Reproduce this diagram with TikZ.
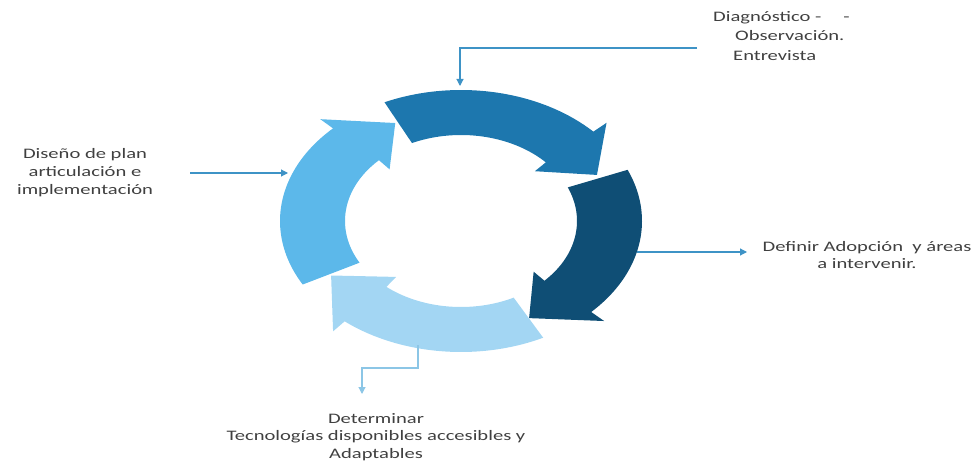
\documentclass[tikz,border=0pt]{standalone}
\usepackage{fontspec}
\setmainfont{Carlito}[FakeStretch=1.42]
\usetikzlibrary{arrows.meta}
\definecolor{cTop}{HTML}{1D77AE}
\definecolor{cNavy}{HTML}{0F4E75}
\definecolor{cLeft}{HTML}{5CB8EA}
\definecolor{cBot}{HTML}{A3D6F3}
\definecolor{cLine}{HTML}{3E93C6}
\definecolor{cLineL}{HTML}{8CC6E6}
\definecolor{cText}{HTML}{404040}
\newcommand\cyclearrow[4]{%
  \fill[#4] plot[domain=#1:#2, samples=50] ({461+181*cos(\x)},{221-131*sin(\x)})
    -- ({461+199*cos(#2)},{221-144*sin(#2)})
    -- ({461+150*cos(#3)},{221-109*sin(#3)})
    -- ({461+101*cos(#2)},{221-73*sin(#2)})
    -- plot[domain=#2:#1, samples=50] ({461+116*cos(\x)},{221-86*sin(\x)}) -- cycle;}
\begin{document}
\begin{tikzpicture}[x=1pt,y=-1pt,
  lbl/.style={text=cText, inner sep=0pt, font=\fontsize{14.5}{18}\selectfont},
  conn/.style={draw=cLine, line width=1.1pt, -{Triangle[length=7pt,width=7pt]}}]
\useasboundingbox (0,0) rectangle (974,465);
% cycle arrows
\cyclearrow{115}{43}{25}{cTop}
\cyclearrow{23}{-44}{-63}{cNavy}
\cyclearrow{-63}{-130}{-150}{cBot}
\cyclearrow{209}{135}{116}{cLeft}
% labels
\node[lbl, anchor=north west, align=left, font=\fontsize{14.5}{19.5}\selectfont] (diag) at (713,11)
  {Diagnóstico -\hspace{22pt}-\\\hspace{22pt}Observación.\\\hspace{20pt}Entrevista};
\node[lbl, align=center] (dis) at (85,173) {Diseño de plan\\articulación e\\implementación};
\node[lbl, align=center, font=\fontsize{14.5}{17}\selectfont] (def) at (867,255) {Definir Adopción\ \ y áreas\\a intervenir.};
\node[lbl, align=center, font=\fontsize{14.5}{17.5}\selectfont] (det) at (376,437) {Determinar\\Tecnologías disponibles accesibles y\\Adaptables};
% connector points
\coordinate (dA) at (697,48);
\coordinate (dB) at (460,48);
\coordinate (dC) at (460,86);
\coordinate (lA) at (190,173);
\coordinate (lB) at (288,173);
\coordinate (rA) at (637,252);
\coordinate (rB) at (747,252);
\coordinate (bA) at (418,345);
\coordinate (bB) at (418,368);
\coordinate (bC) at (362,368);
\coordinate (bD) at (362,394);
\draw[conn] (dA) -- (dB) -- (dC);
\draw[conn] (lA) -- (lB);
\draw[conn] (rA) -- (rB);
\draw[conn, draw=cLineL] (bA) -- (bB) -- (bC) -- (bD);
\end{tikzpicture}
\end{document}
